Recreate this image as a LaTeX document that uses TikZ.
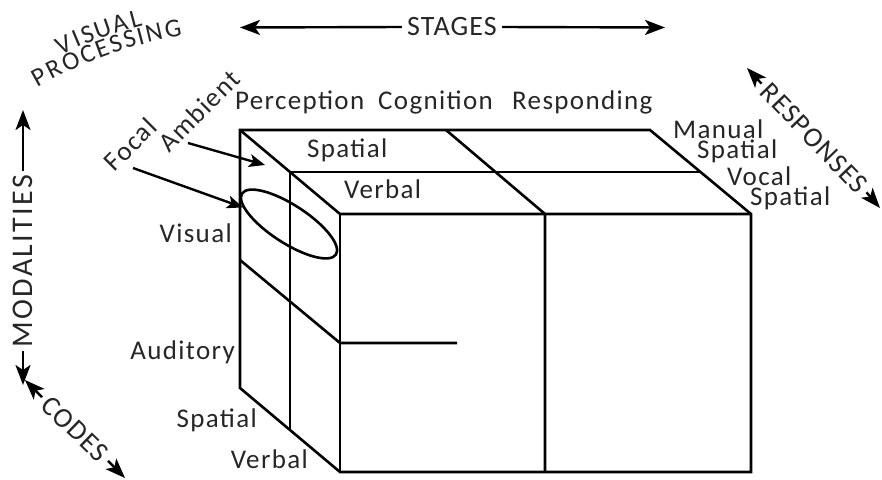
\documentclass[tikz,border=0pt]{standalone}
\usepackage{fontspec}
\setmainfont{Carlito}[LetterSpace=5]
\newfontfamily\capsfont{Carlito}[LetterSpace=4]
\newfontfamily\widecaps{Carlito}[LetterSpace=8]
\usetikzlibrary{arrows.meta,shapes.geometric}
\begin{document}
\begin{tikzpicture}[x=1pt,y=1pt,
  edge/.style={line width=2.6pt},
  lab/.style={font=\fontsize{27}{30}\selectfont, text=black!85, inner sep=0pt},
  caps/.style={font=\capsfont\fontsize{28}{22}\selectfont, text=black!85, inner xsep=5pt, inner ysep=0pt},
  arcletter/.style={font=\capsfont\fontsize{26}{22}\selectfont, text=black!85, inner sep=0pt, anchor=base},
  arr/.style={line width=2.4pt, -{Stealth[length=20pt,width=15pt,inset=5pt]}},
  ptr/.style={line width=2.4pt, -{Stealth[length=16pt,width=13pt,inset=4pt]}},
]
\useasboundingbox (0,0) rectangle (882,-479);

% corners of the block
\coordinate (btl) at (240,-130);
\coordinate (btr) at (650,-130);
\coordinate (ftl) at (340,-214);
\coordinate (ftr) at (751,-214);
\coordinate (fbl) at (340,-472);
\coordinate (fbr) at (751,-472);
\coordinate (bbl) at (240,-388);
% middle (spatial / verbal) plane
\coordinate (mtl) at (290,-172);
\coordinate (mtr) at (700,-172);
\coordinate (mbl) at (290,-430);
% stage divider
\coordinate (st) at (446,-130);
\coordinate (sf) at (545,-214);
\coordinate (sb) at (545,-472);
% visual / auditory divider
\coordinate (vl) at (240,-260);
\coordinate (vf) at (340,-343);
\coordinate (ve) at (457,-343);

% block outline and inner lines
\draw[edge] (btl) -- (btr) -- (ftr) -- (fbr) -- (fbl) -- (bbl) -- cycle;
\draw[edge] (btl) -- (ftl) -- (ftr);
\draw[edge] (ftl) -- (fbl);
\draw[edge] (mtl) -- (mtr);
\draw[edge] (mtl) -- (mbl);
\draw[edge] (st) -- (sf) -- (sb);
\draw[edge] (vl) -- (vf) -- (ve);

% focal region
\node[draw, edge, ellipse, minimum width=112pt, minimum height=38pt, inner sep=0pt, rotate=-33] (foc) at (289,-224) {};

% stage labels
\node[lab, anchor=base west] (per) at (235,-109) {Perception};
\node[lab, anchor=base west] (cog) at (378,-109) {Cognition};
\node[lab, anchor=base west] (res) at (512,-109) {Responding};

% code labels on top
\node[lab, anchor=base west] (tsp) at (307,-157) {Spatial};
\node[lab, anchor=base west] (tvb) at (344,-198) {Verbal};

% response labels
\node[lab, anchor=base west] (man) at (673,-138) {Manual};
\node[lab, anchor=base west] (msp) at (697,-158) {Spatial};
\node[lab, anchor=base west] (voc) at (727,-185) {Vocal};
\node[lab, anchor=base west] (vsp) at (750,-205) {Spatial};

% modality labels
\node[lab, anchor=base east] (vis) at (232,-242) {Visual};
\node[lab, anchor=base east] (aud) at (235,-359) {Auditory};

% code labels at the bottom
\node[lab, anchor=base east] (bsp) at (257,-427) {Spatial};
\node[lab, anchor=base east] (bvb) at (308,-468) {Verbal};

% visual processing labels, set letter by letter on two concentric arcs
\coordinate (arcC) at (252,-460);
\foreach \ch/\a [count=\i] in {V/114.4, I/112.66, S/111.14, U/109.11, A/106.86, L/104.8}
  \node[arcletter, rotate=\a-90] (vpl\i) at ([shift={(\a:448)}]arcC) {\ch};
\foreach \ch/\a [count=\i] in {P/118.96, R/116.84, O/114.44, C/112.07, E/110.02, S/108.1, S/106.24, I/104.76, N/102.93, G/100.4}
  \node[arcletter, rotate=\a-90] (ppl\i) at ([shift={(\a:430)}]arcC) {\ch};

\node[lab, rotate=45] (focl) at (130,-144) {Focal};
\node[lab, rotate=45] (ambl) at (199,-111) {Ambient};

\coordinate (amb0) at (188,-143);
\coordinate (amb1) at (265,-165);
\coordinate (foc0) at (133,-168);
\draw[ptr] (amb0) -- (amb1);
\draw[ptr] (foc0) -- (foc);

% dimension axes
\node[caps] (stg) at (452,-27) {STAGES};
\coordinate (stgL) at (240,-27.5);
\coordinate (stgR) at (665,-27.5);
\draw[arr] (stg.west) -- (stgL);
\draw[arr] (stg.east) -- (stgR);

\node[caps, font=\widecaps\fontsize{30}{22}\selectfont, inner xsep=3pt, rotate=90] (mod) at (23,-261) {MODALITIES};
\coordinate (modU) at (23,-110);
\coordinate (modD) at (23,-385);
\draw[arr] (mod.east) -- (modU);
\draw[arr] (mod.west) -- (modD);

\node[caps, rotate=-46] (rsp) at (814,-138) {RESPONSES};
\coordinate (rspU) at (747,-68);
\coordinate (rspD) at (880,-208);
\draw[arr] (rsp.west) -- (rspU);
\draw[arr] (rsp.east) -- (rspD);

\node[caps, rotate=-44] (cds) at (75,-429) {CODES};
\coordinate (cdsU) at (25,-380);
\coordinate (cdsD) at (125,-478);
\draw[arr] (cds.west) -- (cdsU);
\draw[arr] (cds.east) -- (cdsD);
\end{tikzpicture}
\end{document}
